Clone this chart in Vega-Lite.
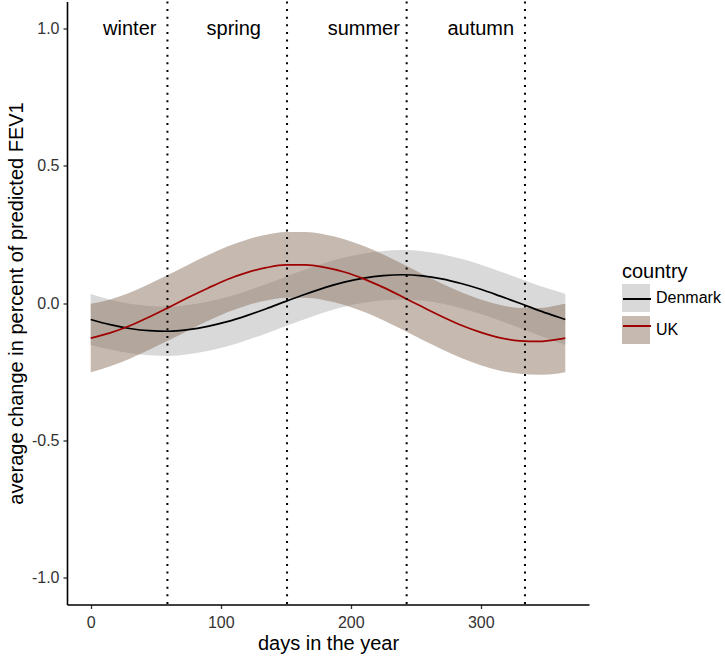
{
  "$schema": "https://vega.github.io/schema/vega-lite/v6.json",
  "width": 522,
  "height": 603,
  "autosize": {"type": "none"},
  "padding": {"left": 67, "top": 1.5, "right": 136, "bottom": 52.5},
  "background": "white",
  "config": {"font": "Liberation Sans", "view": {"stroke": null}},
  "datasets": {
    "fit": [
      {"country": "Denmark", "day": 0, "mean": -0.060, "lo": -0.153, "hi": 0.033},
      {"country": "Denmark", "day": 15, "mean": -0.079, "lo": -0.170, "hi": 0.012},
      {"country": "Denmark", "day": 30, "mean": -0.093, "lo": -0.183, "hi": -0.003},
      {"country": "Denmark", "day": 45, "mean": -0.101, "lo": -0.191, "hi": -0.011},
      {"country": "Denmark", "day": 60, "mean": -0.103, "lo": -0.193, "hi": -0.013},
      {"country": "Denmark", "day": 75, "mean": -0.097, "lo": -0.187, "hi": -0.007},
      {"country": "Denmark", "day": 90, "mean": -0.085, "lo": -0.175, "hi": 0.005},
      {"country": "Denmark", "day": 105, "mean": -0.068, "lo": -0.158, "hi": 0.022},
      {"country": "Denmark", "day": 120, "mean": -0.046, "lo": -0.136, "hi": 0.044},
      {"country": "Denmark", "day": 135, "mean": -0.021, "lo": -0.111, "hi": 0.069},
      {"country": "Denmark", "day": 150, "mean": 0.006, "lo": -0.084, "hi": 0.096},
      {"country": "Denmark", "day": 165, "mean": 0.032, "lo": -0.058, "hi": 0.122},
      {"country": "Denmark", "day": 180, "mean": 0.056, "lo": -0.034, "hi": 0.146},
      {"country": "Denmark", "day": 195, "mean": 0.076, "lo": -0.014, "hi": 0.166},
      {"country": "Denmark", "day": 210, "mean": 0.091, "lo": 0.001, "hi": 0.181},
      {"country": "Denmark", "day": 225, "mean": 0.100, "lo": 0.010, "hi": 0.190},
      {"country": "Denmark", "day": 240, "mean": 0.103, "lo": 0.013, "hi": 0.193},
      {"country": "Denmark", "day": 255, "mean": 0.099, "lo": 0.009, "hi": 0.189},
      {"country": "Denmark", "day": 270, "mean": 0.088, "lo": -0.002, "hi": 0.178},
      {"country": "Denmark", "day": 285, "mean": 0.071, "lo": -0.019, "hi": 0.161},
      {"country": "Denmark", "day": 300, "mean": 0.050, "lo": -0.040, "hi": 0.140},
      {"country": "Denmark", "day": 315, "mean": 0.025, "lo": -0.065, "hi": 0.115},
      {"country": "Denmark", "day": 330, "mean": -0.001, "lo": -0.091, "hi": 0.089},
      {"country": "Denmark", "day": 345, "mean": -0.028, "lo": -0.119, "hi": 0.063},
      {"country": "Denmark", "day": 360, "mean": -0.052, "lo": -0.145, "hi": 0.041},
      {"country": "Denmark", "day": 365, "mean": -0.060, "lo": -0.153, "hi": 0.033},
      {"country": "UK", "day": 0, "mean": -0.128, "lo": -0.253, "hi": -0.003},
      {"country": "UK", "day": 15, "mean": -0.109, "lo": -0.231, "hi": 0.013},
      {"country": "UK", "day": 30, "mean": -0.083, "lo": -0.203, "hi": 0.037},
      {"country": "UK", "day": 45, "mean": -0.051, "lo": -0.171, "hi": 0.069},
      {"country": "UK", "day": 60, "mean": -0.016, "lo": -0.136, "hi": 0.104},
      {"country": "UK", "day": 75, "mean": 0.020, "lo": -0.100, "hi": 0.140},
      {"country": "UK", "day": 90, "mean": 0.054, "lo": -0.066, "hi": 0.174},
      {"country": "UK", "day": 105, "mean": 0.086, "lo": -0.034, "hi": 0.206},
      {"country": "UK", "day": 120, "mean": 0.111, "lo": -0.009, "hi": 0.231},
      {"country": "UK", "day": 135, "mean": 0.129, "lo": 0.009, "hi": 0.249},
      {"country": "UK", "day": 150, "mean": 0.139, "lo": 0.019, "hi": 0.259},
      {"country": "UK", "day": 165, "mean": 0.139, "lo": 0.019, "hi": 0.259},
      {"country": "UK", "day": 180, "mean": 0.130, "lo": 0.010, "hi": 0.250},
      {"country": "UK", "day": 195, "mean": 0.113, "lo": -0.007, "hi": 0.233},
      {"country": "UK", "day": 210, "mean": 0.088, "lo": -0.032, "hi": 0.208},
      {"country": "UK", "day": 225, "mean": 0.057, "lo": -0.063, "hi": 0.177},
      {"country": "UK", "day": 240, "mean": 0.022, "lo": -0.098, "hi": 0.142},
      {"country": "UK", "day": 255, "mean": -0.014, "lo": -0.134, "hi": 0.106},
      {"country": "UK", "day": 270, "mean": -0.049, "lo": -0.169, "hi": 0.071},
      {"country": "UK", "day": 285, "mean": -0.081, "lo": -0.201, "hi": 0.039},
      {"country": "UK", "day": 300, "mean": -0.107, "lo": -0.227, "hi": 0.013},
      {"country": "UK", "day": 315, "mean": -0.127, "lo": -0.247, "hi": -0.007},
      {"country": "UK", "day": 330, "mean": -0.138, "lo": -0.258, "hi": -0.018},
      {"country": "UK", "day": 345, "mean": -0.140, "lo": -0.262, "hi": -0.018},
      {"country": "UK", "day": 360, "mean": -0.132, "lo": -0.257, "hi": -0.007},
      {"country": "UK", "day": 365, "mean": -0.128, "lo": -0.253, "hi": -0.003}
    ],
    "bounds": [
      {"day": 59}, {"day": 151}, {"day": 243}, {"day": 334}
    ],
    "seasons": [
      {"day": 30, "value": 1.0, "label": "winter"},
      {"day": 110, "value": 1.0, "label": "spring"},
      {"day": 210, "value": 1.0, "label": "summer"},
      {"day": 300, "value": 1.0, "label": "autumn"}
    ]
  },
  "layer": [
    {
      "data": {"name": "fit"},
      "mark": {"type": "area", "opacity": 0.5, "interpolate": "monotone"},
      "encoding": {
        "x": {
          "field": "day", "type": "quantitative",
          "scale": {"domain": [-18.25, 383.25], "nice": false, "zero": false},
          "axis": {
            "title": "days in the year", "values": [0, 100, 200, 300], "format": "d", "grid": false,
            "domainColor": "black", "domainWidth": 1.6, "tickColor": "#333333", "tickSize": 4, "tickWidth": 1.3,
            "labelFontSize": 16, "labelColor": "#333333", "labelPadding": 6,
            "titleFontSize": 20, "titleFontWeight": "normal", "titleColor": "black", "titlePadding": 3
          }
        },
        "y": {
          "field": "lo", "type": "quantitative",
          "scale": {"domain": [-1.1, 1.1], "nice": false, "zero": false},
          "axis": {
            "title": "average change in percent of predicted FEV1", "values": [-1, -0.5, 0, 0.5, 1], "grid": false,
            "labelExpr": "datum.value < 0 ? '-' + format(abs(datum.value), '.1f') : format(datum.value, '.1f')",
            "domainColor": "black", "domainWidth": 1.6, "tickColor": "#333333", "tickSize": 4, "tickWidth": 1.3,
            "labelFontSize": 16, "labelColor": "#333333", "labelPadding": 4,
            "titleFontSize": 20, "titleFontWeight": "normal", "titleColor": "black", "titlePadding": 5
          }
        },
        "y2": {"field": "hi"},
        "fill": {
          "field": "country", "type": "nominal",
          "scale": {"range": ["#b3b3b3", "#8b7361"]},
          "legend": {
            "title": "country", "orient": "none", "legendX": 555, "legendY": 260.5, "padding": 0,
            "titleFontSize": 20, "titleFontWeight": "normal", "titleColor": "black", "titlePadding": 2,
            "labelFontSize": 16, "labelColor": "black", "labelOffset": 6,
            "symbolType": "square", "symbolSize": 784, "symbolOpacity": 0.5, "symbolStrokeWidth": 0, "rowPadding": 4
          }
        }
      }
    },
    {
      "data": {"name": "fit"},
      "mark": {"type": "line", "strokeWidth": 1.7, "interpolate": "monotone"},
      "encoding": {
        "x": {"field": "day", "type": "quantitative"},
        "y": {"field": "mean", "type": "quantitative"},
        "stroke": {
          "field": "country", "type": "nominal",
          "scale": {"domain": ["Denmark", "UK"], "range": ["#000000", "#a00000"]},
          "legend": {
            "title": null, "orient": "none", "legendX": 555, "legendY": 282.5, "padding": 0,
            "labelFontSize": 16, "labelExpr": "''", "labelOffset": 6,
            "symbolType": "stroke", "symbolSize": 784, "symbolStrokeWidth": 2, "rowPadding": 4
          }
        }
      }
    },
    {
      "data": {"name": "bounds"},
      "mark": {"type": "rule", "color": "black", "strokeWidth": 2, "strokeDash": [2, 5.6]},
      "encoding": {
        "x": {"field": "day", "type": "quantitative"}
      }
    },
    {
      "data": {"name": "seasons"},
      "mark": {"type": "text", "fontSize": 20, "color": "black", "baseline": "middle", "align": "center"},
      "encoding": {
        "x": {"field": "day", "type": "quantitative"},
        "y": {"field": "value", "type": "quantitative"},
        "text": {"field": "label"}
      }
    }
  ]
}
